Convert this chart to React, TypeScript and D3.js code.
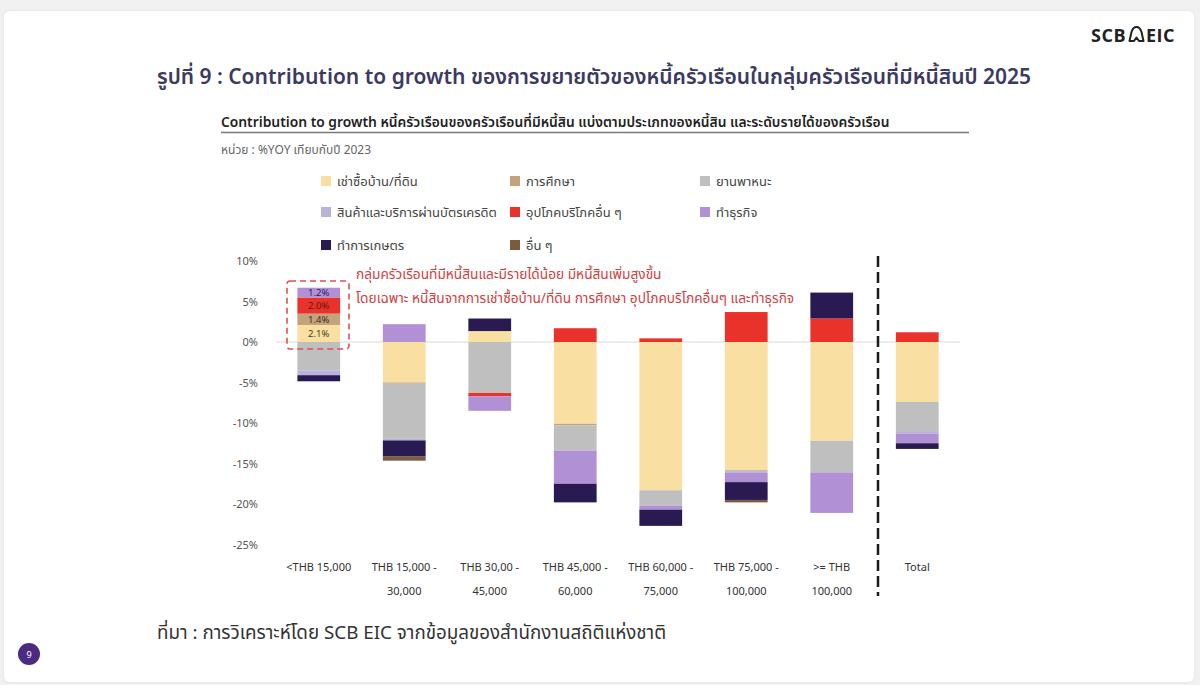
import React from "react";
import * as d3 from "d3";

// Income groups (two-line tick labels)
const categories: string[][] = [
  ["<THB 15,000", ""],
  ["THB 15,000 -", "30,000"],
  ["THB 30,00 -", "45,000"],
  ["THB 45,000 -", "60,000"],
  ["THB 60,000 -", "75,000"],
  ["THB 75,000 -", "100,000"],
  [">= THB", "100,000"],
  ["Total", ""],
];

// Debt types, in legend / stacking order
const seriesKeys = [
  "housing",
  "education",
  "vehicle",
  "creditCard",
  "consumer",
  "business",
  "agriculture",
  "others",
];
const seriesNames = [
  "เช่าซื้อบ้าน/ที่ดิน",
  "การศึกษา",
  "ยานพาหนะ",
  "สินค้าและบริการผ่านบัตรเครดิต",
  "อุปโภคบริโภคอื่น ๆ",
  "ทำธุรกิจ",
  "ทำการเกษตร",
  "อื่น ๆ",
];
const seriesColors = [
  "#f9dfa1",
  "#c4a37c",
  "#bfbfbf",
  "#b7b3d9",
  "#e8322a",
  "#b290d6",
  "#2a1a52",
  "#7b5b3b",
];

// Contribution to growth (%YoY vs 2023), one value per income group
const housing = [2.1, -5.0, 1.35, -10.1, -18.3, -15.8, -12.2, -7.4];
const education = [1.4, -0.15, 0, -0.2, 0, 0, 0, 0];
const vehicle = [-3.5, -6.8, -6.3, -3.1, -1.9, -0.3, -3.9, -3.6];
const creditCard = [-0.6, -0.2, 0, 0, 0, 0, 0, -0.3];
const consumer = [2.0, 0, -0.4, 1.7, 0.45, 3.7, 2.9, 1.2];
const business = [1.2, 2.2, -1.8, -4.1, -0.5, -1.2, -5.0, -1.2];
const agriculture = [-0.75, -2.0, 1.55, -2.3, -2.0, -2.2, 3.2, -0.7];
const others = [0, -0.5, 0, 0, 0, -0.3, 0, 0];

const seriesValues = [housing, education, vehicle, creditCard, consumer, business, agriculture, others];

const yTicks = [10, 5, 0, -5, -10, -15, -20, -25];

const labelColors: Record<string, string> = {
  housing: "#4a3f1c",
  education: "#3a2e1c",
  consumer: "#6e1212",
  business: "#2a2360",
};

const FONT = "Tahoma, 'Noto Sans Thai', 'Noto Sans', 'Open Sans', sans-serif";

export default function App() {
  const rows = categories.map((_, i) => {
    const r: Record<string, number> = {};
    seriesKeys.forEach((k, s) => (r[k] = seriesValues[s][i]));
    return r;
  });

  const stacked = d3
    .stack<Record<string, number>>()
    .keys(seriesKeys)
    .offset(d3.stackOffsetDiverging)(rows);

  const x = d3
    .scaleBand<number>()
    .domain(categories.map((_, i) => i))
    .range([276, 960])
    .paddingInner(0.5)
    .paddingOuter(0.25);

  const y = d3.scaleLinear().domain([-25, 10]).range([544.5, 261]);

  const legendCols = [321, 510, 700];
  const legendRows = [181, 212, 245];

  const firstX = x(0)!;
  const bw = x.bandwidth();

  return (
    <svg
      width={1200}
      height={685}
      style={{ position: "absolute", left: 0, top: 0, fontFamily: FONT }}
    >
      <defs>
        <filter id="cardShadow" x="-2%" y="-2%" width="104%" height="104%">
          <feDropShadow dx="0" dy="0" stdDeviation="1.5" floodColor="#000" floodOpacity="0.08" />
        </filter>
      </defs>
      <rect x={0} y={0} width={1200} height={685} fill="#f1f1f1" />
      <rect x={4} y={11} width={1190} height={671} rx={6} fill="#ffffff" filter="url(#cardShadow)" />

      {/* logo */}
      <g fill="#222">
        <text x={1091} y={42} fontSize={18} fontWeight={700} fontFamily="'Open Sans', sans-serif" letterSpacing={0.5}>
          SCB
        </text>
        <path
          d="M1129.5,41 L1131.5,32 Q1133,27 1136.5,27 Q1140,27 1141.5,32 L1143.5,41 L1139,41 L1136.5,37.5 L1134,41 Z"
          fill="none"
          stroke="#222"
          strokeWidth={2}
          strokeLinejoin="round"
        />
        <text x={1146} y={42} fontSize={18} fontWeight={700} fontFamily="'Open Sans', sans-serif" letterSpacing={0.5}>
          EIC
        </text>
      </g>

      {/* titles */}
      <text x={157} y={84} fontSize={21} fontWeight={600} fill="#3b3a60">
        รูปที่ 9 : Contribution to growth ของการขยายตัวของหนี้ครัวเรือนในกลุ่มครัวเรือนที่มีหนี้สินปี 2025
      </text>
      <text x={221} y={127} fontSize={13.8} fill="#222" fontWeight={600}>
        Contribution to growth หนี้ครัวเรือนของครัวเรือนที่มีหนี้สิน แบ่งตามประเภทของหนี้สิน และระดับรายได้ของครัวเรือน
      </text>
      <line x1={221} x2={969} y1={132.5} y2={132.5} stroke="#7a7a7a" strokeWidth={1.5} />
      <text x={221} y={154} fontSize={12} fill="#666">
        หน่วย : %YOY เทียบกับปี 2023
      </text>

      {/* legend */}
      {seriesNames.map((name, i) => {
        const cx = legendCols[i % 3];
        const cy = legendRows[Math.floor(i / 3)];
        return (
          <g key={name}>
            <rect x={cx} y={cy - 5} width={10} height={10} fill={seriesColors[i]} />
            <text x={cx + 16} y={cy + 4.5} fontSize={13} fill="#444">
              {name}
            </text>
          </g>
        );
      })}

      {/* y axis labels */}
      {yTicks.map((t) => (
        <text key={t} x={258} y={y(t) + 4} fontSize={11} fill="#555" textAnchor="end">
          {`${t}%`}
        </text>
      ))}

      {/* zero line */}
      <line x1={276} x2={960} y1={y(0)} y2={y(0)} stroke="#d9d9d9" strokeWidth={1} />

      {/* stacked bars */}
      {stacked.map((layer, s) => (
        <g key={layer.key} fill={seriesColors[s]}>
          {layer.map((d, i) =>
            d[1] - d[0] === 0 ? null : (
              <rect
                key={i}
                x={x(i)}
                width={bw}
                y={y(Math.max(d[0], d[1]))}
                height={Math.abs(y(d[0]) - y(d[1]))}
              />
            )
          )}
        </g>
      ))}

      {/* value labels on the lowest income group's positive segments */}
      {stacked.map((layer, s) => {
        const d = layer[0];
        const v = seriesValues[s][0];
        if (!(v > 0)) return null;
        return (
          <text
            key={layer.key}
            x={firstX + bw / 2}
            y={y((d[0] + d[1]) / 2) + 3.3}
            fontSize={9.5}
            textAnchor="middle"
            fill={labelColors[layer.key] || "#333"}
          >
            {`${v.toFixed(1)}%`}
          </text>
        );
      })}

      {/* highlight box and annotation */}
      <rect
        x={287}
        y={281}
        width={62}
        height={68}
        fill="none"
        stroke="#d9534f"
        strokeWidth={1.6}
        strokeDasharray="6 4"
        rx={3}
      />
      <text x={356} y={279} fontSize={13.7} fill="#d1403f">
        กลุ่มครัวเรือนที่มีหนี้สินและมีรายได้น้อย มีหนี้สินเพิ่มสูงขึ้น
      </text>
      <text x={356} y={303} fontSize={13.7} fill="#d1403f">
        โดยเฉพาะ หนี้สินจากการเช่าซื้อบ้าน/ที่ดิน การศึกษา อุปโภคบริโภคอื่นๆ และทำธุรกิจ
      </text>

      {/* separator before Total */}
      <line x1={878} x2={878} y1={256} y2={596} stroke="#1a1a1a" strokeWidth={2.5} strokeDasharray="11 5" />

      {/* x axis labels */}
      {categories.map((lines, i) => (
        <g key={i}>
          <text x={x(i)! + bw / 2} y={571} fontSize={11} fill="#333" textAnchor="middle">
            {lines[0]}
          </text>
          {lines[1] && (
            <text x={x(i)! + bw / 2} y={595} fontSize={11} fill="#333" textAnchor="middle">
              {lines[1]}
            </text>
          )}
        </g>
      ))}

      {/* source */}
      <text x={157} y={639} fontSize={18.8} fill="#333">
        ที่มา : การวิเคราะห์โดย SCB EIC จากข้อมูลของสำนักงานสถิติแห่งชาติ
      </text>

      {/* page number */}
      <circle cx={29} cy={654} r={11} fill="#4b2a80" />
      <text x={29} y={657.5} fontSize={9} fill="#fff" textAnchor="middle">
        9
      </text>
    </svg>
  );
}
